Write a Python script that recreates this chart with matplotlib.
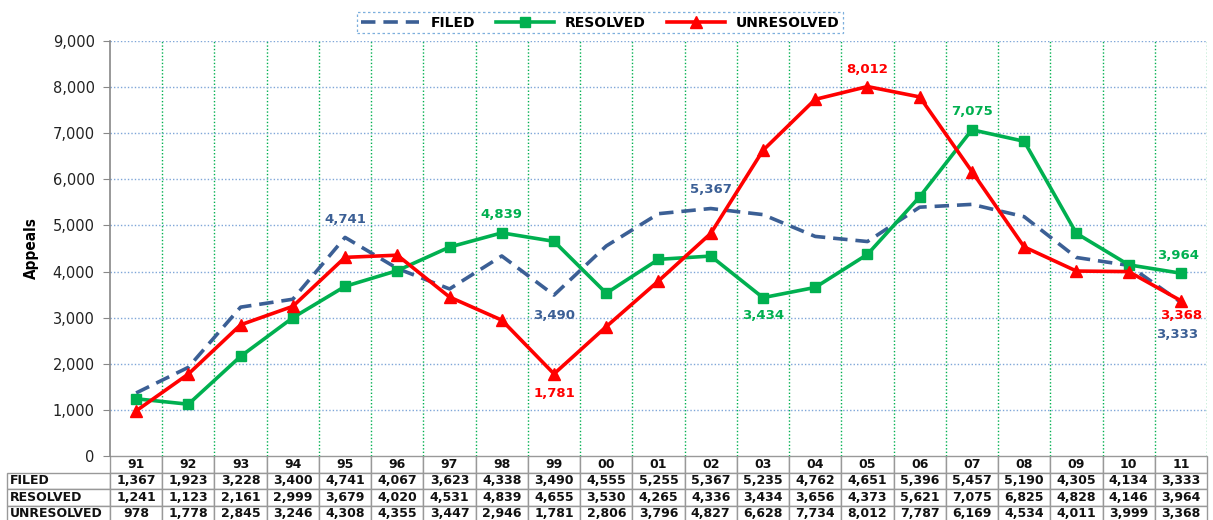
import matplotlib
matplotlib.use("Agg")
import matplotlib.pyplot as plt
from matplotlib.ticker import FuncFormatter, MultipleLocator

years = ["91", "92", "93", "94", "95", "96", "97", "98", "99", "00", "01",
         "02", "03", "04", "05", "06", "07", "08", "09", "10", "11"]
filed = [1367, 1923, 3228, 3400, 4741, 4067, 3623, 4338, 3490, 4555, 5255,
         5367, 5235, 4762, 4651, 5396, 5457, 5190, 4305, 4134, 3333]
resolved = [1241, 1123, 2161, 2999, 3679, 4020, 4531, 4839, 4655, 3530, 4265,
            4336, 3434, 3656, 4373, 5621, 7075, 6825, 4828, 4146, 3964]
unresolved = [978, 1778, 2845, 3246, 4308, 4355, 3447, 2946, 1781, 2806, 3796,
              4827, 6628, 7734, 8012, 7787, 6169, 4534, 4011, 3999, 3368]

C_F = "#3B5F95"
C_R = "#00B050"
C_U = "#FF0000"

plt.rcParams['font.family'] = ['DejaVu Sans']
fig = plt.figure(figsize=(12.13, 5.2), dpi=100)
W, H = 1213, 520
L, R, T, B = 110, 1207, 41, 456
ax = fig.add_axes([L / W, 1 - B / H, (R - L) / W, (B - T) / H])

x = list(range(len(years)))
ax.plot(x, filed, color=C_F, lw=2.6, ls=(0, (4, 2.2)), label="FILED", zorder=3)
ax.plot(x, resolved, color=C_R, lw=2.6, marker="s", ms=7.5, label="RESOLVED", zorder=4)
ax.plot(x, unresolved, color=C_U, lw=2.6, marker="^", ms=8.5, label="UNRESOLVED", zorder=5)

ax.set_xlim(-0.5, len(years) - 0.5)
ax.set_ylim(0, 9000)
ax.yaxis.set_major_locator(MultipleLocator(1000))
ax.yaxis.set_major_formatter(FuncFormatter(lambda v, p: f"{int(v):,}"))
ax.tick_params(axis="y", labelsize=10.5, colors="#222222", length=5, color="#888888", pad=6)
ax.set_xticks([])
for i in range(len(years)):
    ax.axvline(i + 0.5, color=C_R, lw=1, ls=(0, (1, 1.5)), zorder=1)
for v in range(1000, 9001, 1000):
    ax.axhline(v, color="#7FA6D8", lw=1, ls=(0, (1, 1.5)), zorder=1)
for s in ["top", "right", "bottom"]:
    ax.spines[s].set_visible(False)
ax.spines["left"].set_color("#888888")
ax.spines["left"].set_linewidth(1.2)

ax.set_ylabel("Appeals", fontsize=11, fontweight="bold", labelpad=10, fontstretch="condensed")

def lab(i, vals, color, dy, dx=0, ha="center"):
    ax.annotate(f"{vals[i]:,}", (i, vals[i]), xytext=(dx, dy), textcoords="offset points",
                ha=ha, va="center", color=color, fontsize=9.5, fontweight="bold",
                annotation_clip=False)

lab(4, filed, C_F, 13)
lab(8, filed, C_F, -15)
lab(11, filed, C_F, 14)
lab(20, filed, C_F, -23, -3)
lab(7, resolved, C_R, 13)
lab(12, resolved, C_R, -13)
lab(16, resolved, C_R, 13)
lab(20, resolved, C_R, 13, -2)
lab(8, unresolved, C_U, -14)
lab(14, unresolved, C_U, 12)
lab(20, unresolved, C_U, -11, 0)

leg = fig.legend(loc="upper center", bbox_to_anchor=(0.495, 0.99), ncol=3, frameon=True,
                 handlelength=4.2, columnspacing=1.5, borderpad=0.25,
                 prop={"weight": "bold", "size": 10})
fr = leg.get_frame()
fr.set_edgecolor("#5B9BD5")
fr.set_linestyle((0, (2, 2)))
fr.set_linewidth(0.9)
fr.set_boxstyle("square", pad=0)

# Data table
rows = [[""] + years,
        ["FILED"] + [f"{v:,}" for v in filed],
        ["RESOLVED"] + [f"{v:,}" for v in resolved],
        ["UNRESOLVED"] + [f"{v:,}" for v in unresolved]]
tw = R - 7
colw = [103 / tw] + [(R - L) / tw / len(years)] * len(years)
tbl = ax.table(cellText=rows, colWidths=colw, cellLoc="center",
               bbox=[(7 - L) / (R - L), -(H - B + 2) / (B - T), tw / (R - L), (H - B + 2) / (B - T)])
tbl.auto_set_font_size(False)
for (r, c), cell in tbl.get_celld().items():
    cell.set_edgecolor("#999999")
    cell.set_linewidth(1.0)
    cell.get_text().set_fontsize(9)
    cell.get_text().set_fontweight("bold")
    cell.get_text().set_color("#111111")
    if c == 0:
        cell.get_text().set_ha("left")
        cell._loc = "left"
        cell.PAD = 0.03
    if r == 0 and c == 0:
        cell.visible_edges = ""

fig.savefig("out.png", dpi=100)
